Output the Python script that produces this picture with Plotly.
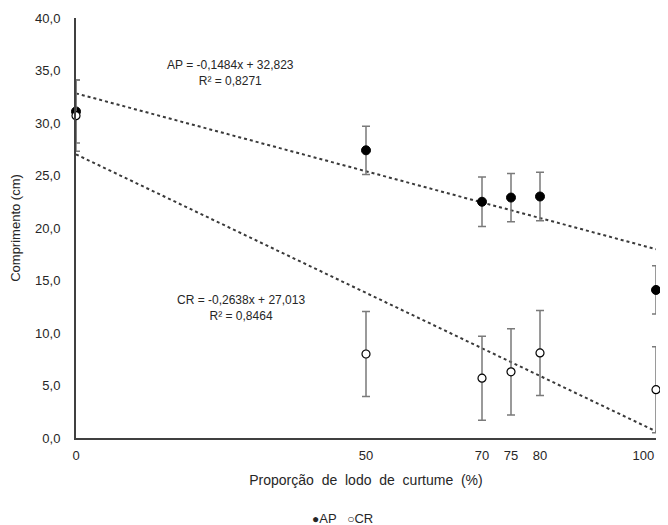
import numpy as np
import plotly.graph_objects as go

x_vals = [0, 50, 70, 75, 80, 100]
ap_mean = [31.1, 27.4, 22.5, 22.9, 23.0, 14.1]
ap_err = [3.0, 2.3, 2.35, 2.3, 2.3, 2.3]
cr_mean = [30.7, 8.0, 5.7, 6.3, 8.1, 4.6]
cr_err = [3.4, 4.05, 4.0, 4.1, 4.05, 4.1]

ap_fit = {"slope": -0.1484, "intercept": 32.823, "r2": "0,8271"}
cr_fit = {"slope": -0.2638, "intercept": 27.013, "r2": "0,8464"}

x_ticks = [0, 50, 70, 75, 80, 100]
x_tick_labels = ["0", "50", "70", "75", "80", "100"]
y_ticks = [0, 5, 10, 15, 20, 25, 30, 35, 40]

font_family = "Liberation Sans, Arial, sans-serif"
txt = "#262626"

fig = go.Figure()

xl = np.array([0, 100])
for fit in (ap_fit, cr_fit):
    fig.add_trace(go.Scatter(
        x=xl, y=fit["intercept"] + fit["slope"] * xl, mode="lines",
        line=dict(color="#3a3a3a", width=2, dash="dot"),
        showlegend=False, hoverinfo="skip", cliponaxis=False))

fig.add_trace(go.Scatter(
    x=x_vals, y=ap_mean, mode="markers", name="AP", showlegend=False,
    marker=dict(symbol="circle", size=9, color="black", line=dict(color="black", width=1)),
    error_y=dict(type="data", array=ap_err, visible=True, color="#7a7a7a", thickness=1.5, width=4),
    cliponaxis=False))
fig.add_trace(go.Scatter(
    x=x_vals, y=cr_mean, mode="markers", name="CR", showlegend=False,
    marker=dict(symbol="circle", size=8, color="white", line=dict(color="black", width=1.2)),
    error_y=dict(type="data", array=cr_err, visible=True, color="#7a7a7a", thickness=1.5, width=4),
    cliponaxis=False))

def fmt(v):
    return f"{v:.4f}".replace(".", ",") if abs(v) < 1 else f"{v:.3f}".replace(".", ",")

anns = [
    (ap_fit, "AP", 26.7, 34.8),
    (cr_fit, "CR", 28.4, 12.4),
]
for fit, name, ax, ay in anns:
    fig.add_annotation(
        x=ax, y=ay, xref="x", yref="y", showarrow=False,
        text=f"{name} = {fmt(fit['slope'])}x + {fmt(fit['intercept'])}<br>R² = {fit['r2']}",
        font=dict(family=font_family, size=12, color=txt), align="center")

# legend (compact, as in the reference)
fig.add_annotation(
    x=266 / 580, y=-80 / 420, xref="paper", yref="paper", showarrow=False,
    xanchor="center", yanchor="middle",
    text="<span style='font-size:12px'>●</span>AP \u00a0\u00a0<span style='font-size:12px'>○</span>CR",
    font=dict(family=font_family, size=13, color=txt))

xtitle = "Proporção de lodo de curtume (%)".replace(" ", " \u00a0")
# keep the last label inside the page edge
x_tick_text = x_tick_labels[:-1] + [x_tick_labels[-1] + "\u00a0" * 7]

fig.update_layout(
    width=652, height=517,
    margin=dict(l=68, r=4, t=10, b=87),
    paper_bgcolor="white", plot_bgcolor="white",
    separators=",.",
    font=dict(family=font_family, size=12, color=txt),
    showlegend=False,
    xaxis=dict(range=[0, 100], tickvals=x_ticks, ticktext=x_tick_text,
               showgrid=False, zeroline=False, showline=True, linecolor="#404040", linewidth=2,
               ticks="", ticklabelstandoff=4, automargin=False, ticklabeloverflow="allow",
               tickfont=dict(size=13, color=txt),
               title=dict(text=xtitle, font=dict(size=14, color=txt), standoff=14)),
    yaxis=dict(range=[0, 40], tickvals=y_ticks, tickformat=".1f",
               showgrid=False, zeroline=False, showline=True, linecolor="#404040", linewidth=2,
               ticks="", ticklabelstandoff=11, automargin=False,
               tickfont=dict(size=13, color=txt),
               title=dict(text="Comprimento (cm)", font=dict(size=13, color=txt), standoff=12)),
)

fig.write_html("out.html")
